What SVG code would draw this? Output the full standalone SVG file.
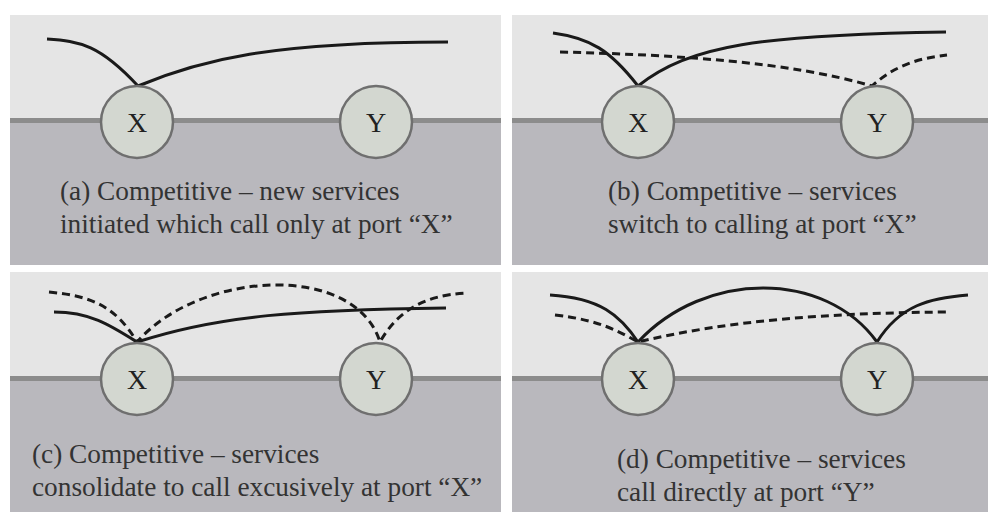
<svg xmlns="http://www.w3.org/2000/svg" width="988" height="513" viewBox="0 0 988 513">
<style>
.top{fill:#e5e5e5}
.bot{fill:#b9b8bd}
.div{fill:#8c8c8c}
.port{fill:#d3d7d0;stroke:#6f6f6f;stroke-width:2.5}
.pl{font-family:"Liberation Serif",serif;font-size:28px;fill:#222;text-anchor:middle}
.cap{font-family:"Liberation Serif",serif;font-size:27.3px;fill:#333}
.s{fill:none;stroke:#1a1a1a;stroke-width:3}
.d{fill:none;stroke:#1a1a1a;stroke-width:3;stroke-dasharray:8 5}
</style>
<rect width="988" height="513" fill="#ffffff"/>
<g id="panel-a">
<rect class="top" x="10" y="15" width="491" height="105"/>
<rect class="bot" x="10" y="120" width="491" height="145"/>
<rect class="div" x="10" y="118" width="491" height="5"/>
<text class="cap" x="60" y="200">(a) Competitive – new services</text>
<text class="cap" x="60" y="233">initiated which call only at port “X”</text>
</g>
<g id="panel-b">
<rect class="top" x="512" y="15" width="476" height="105"/>
<rect class="bot" x="512" y="120" width="476" height="145"/>
<rect class="div" x="512" y="118" width="476" height="5"/>
<text class="cap" x="608" y="200">(b) Competitive – services</text>
<text class="cap" x="608" y="233">switch to calling at port “X”</text>
</g>
<g id="panel-c">
<rect class="top" x="10" y="272" width="491" height="106"/>
<rect class="bot" x="10" y="378" width="491" height="134"/>
<rect class="div" x="10" y="376" width="491" height="5"/>
<text class="cap" x="32" y="463">(c) Competitive – services</text>
<text class="cap" x="32" y="496">consolidate to call excusively at port “X”</text>
</g>
<g id="panel-d">
<rect class="top" x="512" y="272" width="476" height="106"/>
<rect class="bot" x="512" y="378" width="476" height="134"/>
<rect class="div" x="512" y="376" width="476" height="5"/>
<text class="cap" x="617" y="468">(d) Competitive – services</text>
<text class="cap" x="617" y="501">call directly at port “Y”</text>
</g>
<g id="connectors">
<path class="s" d="M47,39 C80,41 100,45 138,86 C200,60 270,42 448,42"/>
<path class="s" d="M553,33 C590,38 610,50 638,86 C690,45 760,35 946,32"/>
<path class="d" d="M560,52 C680,55 790,62 872,86 C895,65 920,58 947,55"/>
<path class="d" d="M49,292 C90,296 115,305 137,342 C200,270 355,262 380,342 C395,315 420,295 467,293"/>
<path class="s" d="M54,312 C90,312 110,325 137,342 C220,315 300,310 446,308"/>
<path class="s" d="M550,295 C600,298 620,315 638,342 C705,270 825,270 877,342 C900,305 930,298 968,295"/>
<path class="d" d="M555,315 C600,320 620,332 638,342 C730,320 830,313 946,312"/>
</g>
<g id="port-a-x"><circle class="port" cx="137" cy="122" r="36"/><text class="pl" x="137" y="132">X</text></g>
<g id="port-a-y"><circle class="port" cx="376" cy="122" r="36"/><text class="pl" x="376" y="132">Y</text></g>
<g id="port-b-x"><circle class="port" cx="638" cy="122" r="36"/><text class="pl" x="638" y="132">X</text></g>
<g id="port-b-y"><circle class="port" cx="877" cy="122" r="36"/><text class="pl" x="877" y="132">Y</text></g>
<g id="port-c-x"><circle class="port" cx="137" cy="379" r="36"/><text class="pl" x="137" y="389">X</text></g>
<g id="port-c-y"><circle class="port" cx="376" cy="379" r="36"/><text class="pl" x="376" y="389">Y</text></g>
<g id="port-d-x"><circle class="port" cx="638" cy="379" r="36"/><text class="pl" x="638" y="389">X</text></g>
<g id="port-d-y"><circle class="port" cx="877" cy="379" r="36"/><text class="pl" x="877" y="389">Y</text></g>
</svg>
